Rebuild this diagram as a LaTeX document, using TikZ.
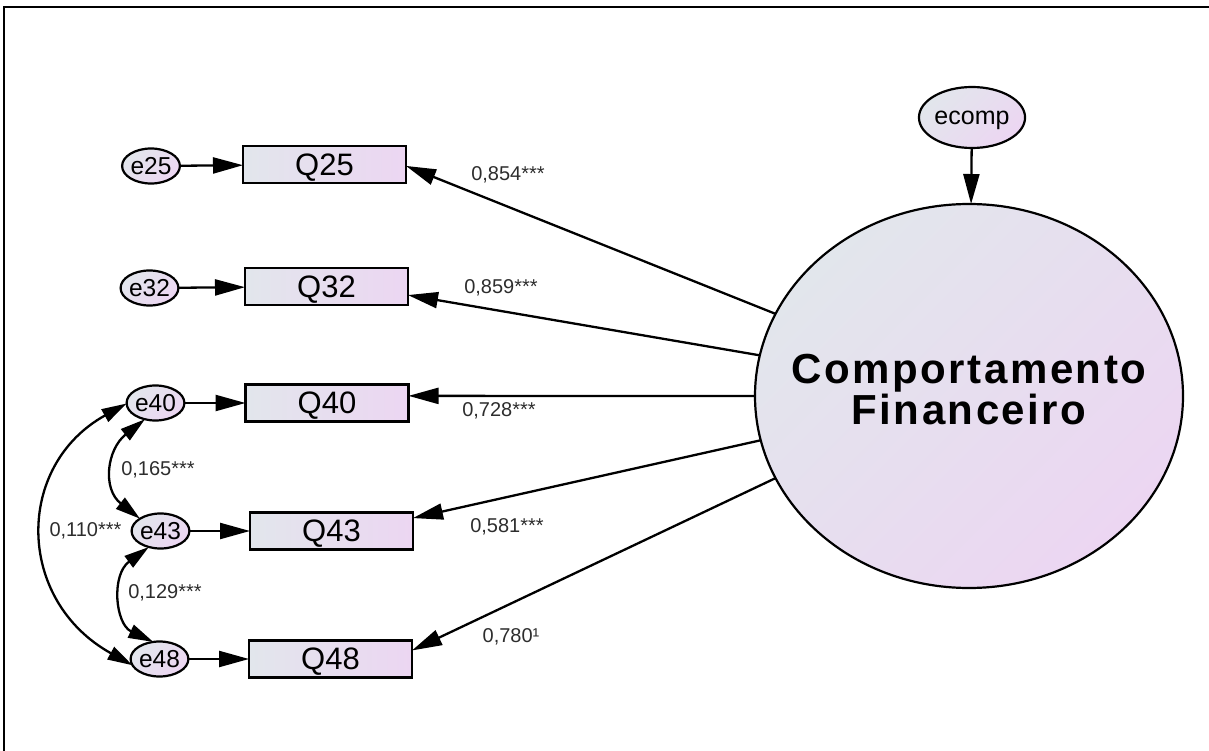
\documentclass[tikz,border=0pt]{standalone}
\usepackage{fontspec}
\setmainfont{Liberation Sans}
\newfontfamily\amos{Liberation Sans}
\newfontfamily\amostitle[LetterSpace=6]{Liberation Sans}
\usetikzlibrary{arrows.meta,shapes.geometric}
\definecolor{shadeA}{RGB}{226,230,236}
\definecolor{shadeB}{RGB}{236,214,242}
\definecolor{coefgray}{RGB}{45,45,45}
\begin{document}
\begin{tikzpicture}[x=1pt,y=1pt,
  every node/.style={inner sep=0pt, outer sep=0pt},
  obs/.style={draw=black, line width=2.4pt, minimum width=163pt, minimum height=37pt,
    left color=shadeA, right color=shadeB, text depth=0pt,
    font=\amos\fontsize{31}{36}\selectfont},
  err/.style={ellipse, draw=black, line width=2.2pt, minimum width=55pt, minimum height=35pt,
    top color=shadeA, bottom color=shadeB, shading angle=45, text depth=0pt,
    font=\amos\fontsize{24.5}{28}\selectfont},
  latent/.style={ellipse, draw=black, line width=2.2pt, minimum width=428pt, minimum height=384pt,
    top color=shadeA, bottom color=shadeB, shading angle=45},
  coef/.style={font=\amos\fontsize{20}{23}\selectfont, text=coefgray},
  load/.style={line width=2.3pt, -{Triangle[length=30pt,width=16pt]}},
  cov/.style={line width=2.3pt, {Triangle[length=25pt,width=14pt]}-{Triangle[length=25pt,width=14pt]}},
]
\useasboundingbox (0,0) rectangle (1209,-751);
% frame
\draw[line width=2.5pt] (4,-751) -- (4,-7) -- (1209,-7);

% latent factor and its disturbance
\node[latent] (cf) at (969,-396) {};
\node[font=\amostitle\bfseries\fontsize{42}{41}\selectfont, align=center] (cfname) at (969,-390) {Comportamento\\Financeiro};
\node[err, minimum width=95pt, minimum height=61pt, font=\amos\fontsize{25}{29}\selectfont] (ecomp) at (972,-117.5) {ecomp};

% indicators
\node[obs] (q25) at (324.5,-164.5) {Q25};
\node[obs] (q32) at (326.5,-286.5) {Q32};
\node[obs] (q40) at (327,-403) {Q40};
\node[obs] (q43) at (331.5,-531) {Q43};
\node[obs] (q48) at (330.5,-659) {Q48};

% measurement errors
\node[err] (e25) at (151,-166) {e25};
\node[err] (e32) at (149.5,-288) {e32};
\node[err] (e40) at (155.5,-403) {e40};
\node[err] (e43) at (160.5,-531) {e43};
\node[err] (e48) at (159.5,-659) {e48};

% paths
\draw[load] (ecomp) -- (cf);
\draw[load] (cf.157.5) -- (q25.-1.5);
\draw[load] (cf.169.6) -- (q32.-6.6);
\draw[load] (cf.180) -- (q40.5.5);
\draw[load] (cf.192.6) -- (q43.9);
\draw[load] (cf.203.7) -- (q48.6.2);
\draw[load] (e25) -- (q25);
\draw[load] (e32) -- (q32);
\draw[load] (e40) -- (q40);
\draw[load] (e43) -- (q43);
\draw[load] (e48) -- (q48);

% error covariances
\draw[cov] (e40.237) .. controls +(-38,-30) and +(-38,30) .. (e43.149);
\draw[cov] (e43.234) .. controls +(-38,-28) and +(-38,18) .. (e48.110);
\draw[cov] (e40.181) .. controls +(-112,-62) and +(-117,65) .. (e48.193);

% estimates
\node[coef] (c854) at (508,-175) {0,854***};
\node[coef] (c859) at (501,-288) {0,859***};
\node[coef] (c728) at (499,-411) {0,728***};
\node[coef] (c581) at (507,-527) {0,581***};
\node[coef] (c780) at (511,-637) {0,780¹};
\node[coef] (c165) at (158,-470) {0,165***};
\node[coef] (c110) at (85.5,-531) {0,110***};
\node[coef] (c129) at (165,-593) {0,129***};
\end{tikzpicture}
\end{document}
